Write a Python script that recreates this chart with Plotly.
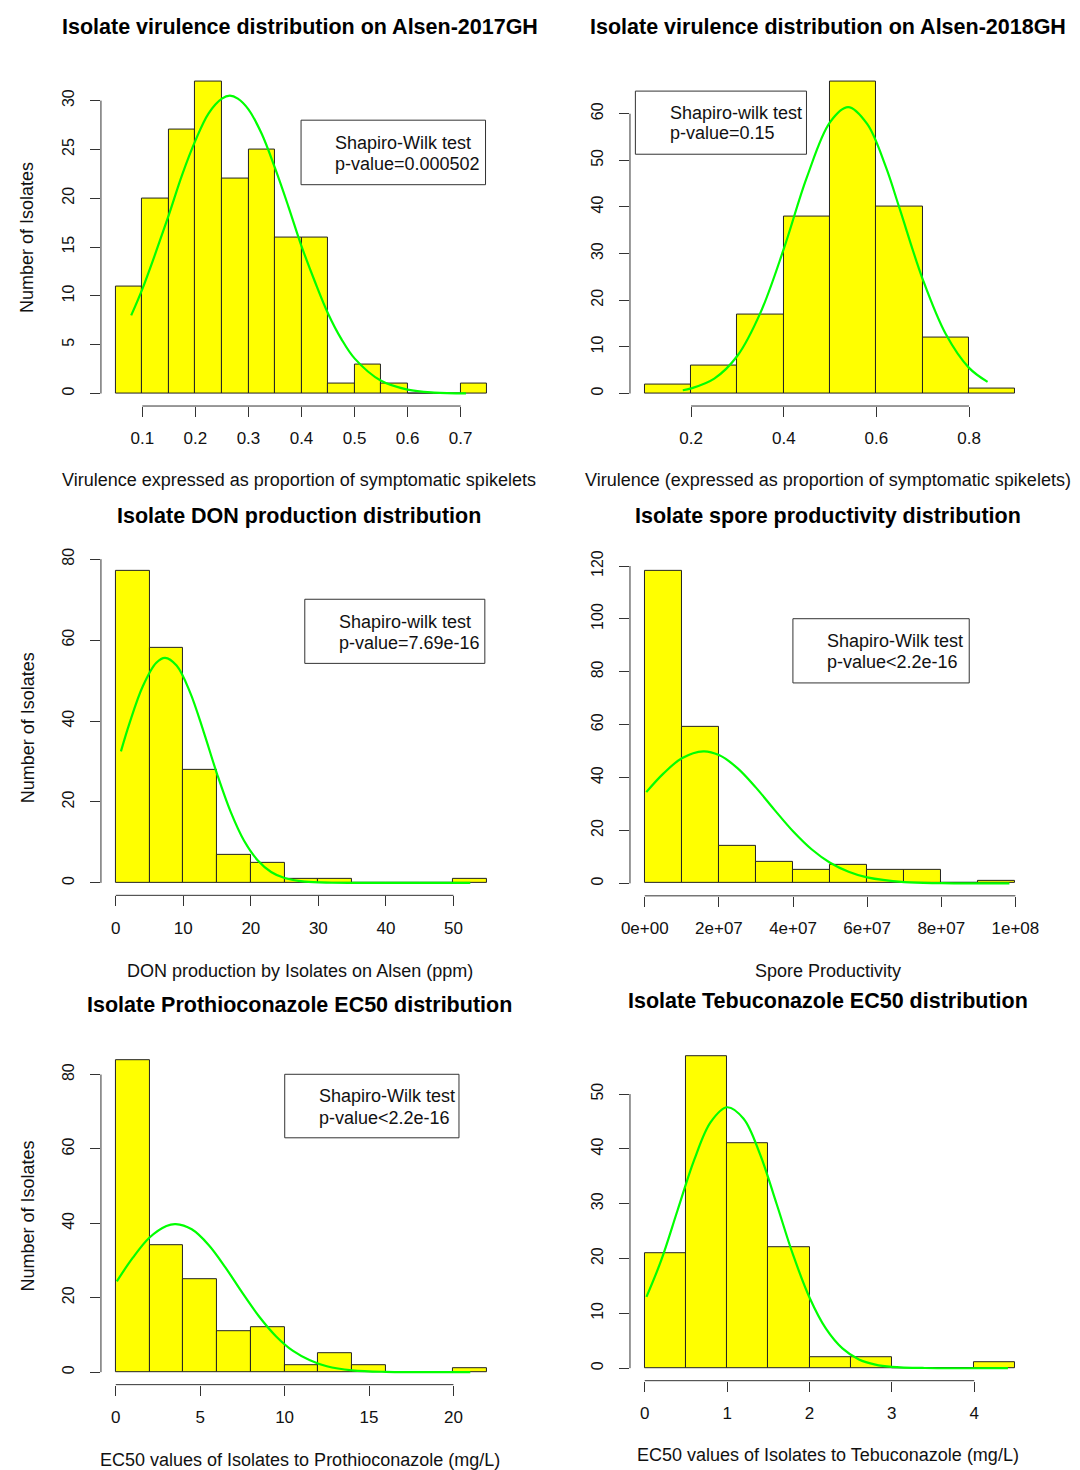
import plotly.graph_objects as go

W, H = 1080, 1470
FONT = "Liberation Sans"

# ---------------- data ----------------
p1_edges = [0.05, 0.10, 0.15, 0.20, 0.25, 0.30, 0.35, 0.40, 0.45, 0.50, 0.55, 0.60, 0.65, 0.70, 0.75]
p1_counts = [11, 20, 27, 32, 22, 25, 16, 16, 1, 3, 1, 0, 0, 1]
p1_curve_x = [0.079, 0.10, 0.125, 0.15, 0.175, 0.20, 0.225, 0.25, 0.265, 0.28, 0.30, 0.325, 0.35,
              0.375, 0.40, 0.425, 0.45, 0.475, 0.50, 0.55, 0.60, 0.65, 0.71]
p1_curve_y = [8.0, 10.7, 14.4, 18.3, 22.4, 25.9, 28.7, 30.2, 30.5, 30.2, 29.1, 26.6, 23.1,
              19.2, 15.1, 11.5, 8.2, 5.6, 3.6, 1.3, 0.4, 0.1, 0.02]
p1_xticks = [0.1, 0.2, 0.3, 0.4, 0.5, 0.6, 0.7]
p1_xlabels = ["0.1", "0.2", "0.3", "0.4", "0.5", "0.6", "0.7"]
p1_yticks = [0, 5, 10, 15, 20, 25, 30]

p2_edges = [0.1, 0.2, 0.3, 0.4, 0.5, 0.6, 0.7, 0.8, 0.9]
p2_counts = [2, 6, 17, 38, 67, 40, 12, 1]
p2_curve_x = [0.182, 0.2, 0.25, 0.30, 0.35, 0.40, 0.45, 0.50, 0.539, 0.58, 0.62, 0.65, 0.70, 0.75, 0.80, 0.84]
p2_curve_y = [0.7, 1.1, 3.2, 8.1, 17.4, 31.0, 46.4, 58.2, 61.4, 57.8, 48.7, 39.7, 24.5, 12.7, 5.5, 2.5]
p2_xticks = [0.2, 0.4, 0.6, 0.8]
p2_xlabels = ["0.2", "0.4", "0.6", "0.8"]
p2_yticks = [0, 10, 20, 30, 40, 50, 60]

p3_edges = [0, 5, 10, 15, 20, 25, 30, 35, 40, 45, 50, 55]
p3_counts = [77, 58, 28, 7, 5, 1, 1, 0, 0, 0, 1]
p3_curve_x = [0.76, 2, 4, 6, 7.3, 9, 11, 13, 15, 17, 19, 21, 23, 25, 28, 32, 40, 52.5]
p3_curve_y = [32.5, 39.3, 48.6, 54.4, 55.6, 53.7, 47.1, 37.4, 26.9, 17.6, 10.4, 5.6, 2.7, 1.2, 0.3, 0.03, 0, 0]
p3_xticks = [0, 10, 20, 30, 40, 50]
p3_xlabels = ["0", "10", "20", "30", "40", "50"]
p3_yticks = [0, 20, 40, 60, 80]

p4_edges = [0, 1e7, 2e7, 3e7, 4e7, 5e7, 6e7, 7e7, 8e7, 9e7, 1e8]
p4_counts = [118, 59, 14, 8, 5, 7, 5, 5, 0, 1]
p4_curve_x = [4e5, 5e6, 1.0e7, 1.58e7, 2.0e7, 2.5e7, 3.0e7, 3.5e7, 4.0e7, 4.5e7, 5.0e7, 5.5e7,
              6.0e7, 7.0e7, 8.0e7, 9.84e7]
p4_curve_y = [34.5, 41.5, 47.3, 49.9, 48.5, 43.6, 36.2, 27.8, 19.7, 12.9, 7.8, 4.4, 2.25, 0.47, 0.07, 0]
p4_xticks = [0, 2e7, 4e7, 6e7, 8e7, 1e8]
p4_xlabels = ["0e+00", "2e+07", "4e+07", "6e+07", "8e+07", "1e+08"]
p4_yticks = [0, 20, 40, 60, 80, 100, 120]

p5_edges = [0, 2, 4, 6, 8, 10, 12, 14, 16, 18, 20, 22]
p5_counts = [84, 34, 25, 11, 12, 2, 5, 2, 0, 0, 1]
p5_curve_x = [0.06, 1, 2, 3, 3.55, 4.5, 5.5, 6.5, 7.5, 8.5, 9.5, 10.5, 11.5, 12.5, 14, 16, 21]
p5_curve_y = [24.4, 30.7, 36.2, 39.3, 39.8, 38.4, 34.2, 28.1, 21.3, 14.9, 9.6, 5.7, 3.2, 1.6, 0.5, 0.08, 0]
p5_xticks = [0, 5, 10, 15, 20]
p5_xlabels = ["0", "5", "10", "15", "20"]
p5_yticks = [0, 20, 40, 60, 80]

p6_edges = [0, 0.5, 1.0, 1.5, 2.0, 2.5, 3.0, 3.5, 4.0, 4.5]
p6_counts = [21, 57, 41, 22, 2, 2, 0, 0, 1]
p6_curve_x = [0.02, 0.2, 0.4, 0.6, 0.8, 1.0, 1.2, 1.4, 1.6, 1.8, 2.0, 2.2, 2.4, 2.6, 2.8, 3.0, 3.4, 4.41]
p6_curve_y = [13.0, 19.7, 28.9, 38.0, 44.9, 47.6, 45.5, 39.0, 30.0, 20.7, 12.9, 7.2, 3.6, 1.6, 0.66, 0.25, 0.03, 0]
p6_xticks = [0, 1, 2, 3, 4]
p6_xlabels = ["0", "1", "2", "3", "4"]
p6_yticks = [0, 10, 20, 30, 40, 50]

titles = ["Isolate virulence distribution on Alsen-2017GH",
          "Isolate virulence distribution on Alsen-2018GH",
          "Isolate DON production distribution",
          "Isolate spore productivity distribution",
          "Isolate Prothioconazole EC50 distribution",
          "Isolate Tebuconazole EC50 distribution"]
xtitles = ["Virulence expressed as proportion of symptomatic spikelets",
           "Virulence (expressed as proportion of symptomatic spikelets)",
           "DON production by Isolates on Alsen (ppm)",
           "Spore Productivity",
           "EC50 values of Isolates to Prothioconazole (mg/L)",
           "EC50 values of Isolates to Tebuconazole (mg/L)"]
ytitle = "Number of Isolates"
box_texts = [("Shapiro-Wilk test", "p-value=0.000502"),
             ("Shapiro-wilk test", "p-value=0.15"),
             ("Shapiro-wilk test", "p-value=7.69e-16"),
             ("Shapiro-Wilk test", "p-value<2.2e-16"),
             ("Shapiro-Wilk test", "p-value<2.2e-16"),
             None]

panels = [
    (p1_edges, p1_counts, p1_curve_x, p1_curve_y, p1_xticks, p1_xlabels, p1_yticks),
    (p2_edges, p2_counts, p2_curve_x, p2_curve_y, p2_xticks, p2_xlabels, p2_yticks),
    (p3_edges, p3_counts, p3_curve_x, p3_curve_y, p3_xticks, p3_xlabels, p3_yticks),
    (p4_edges, p4_counts, p4_curve_x, p4_curve_y, p4_xticks, p4_xlabels, p4_yticks),
    (p5_edges, p5_counts, p5_curve_x, p5_curve_y, p5_xticks, p5_xlabels, p5_yticks),
    (p6_edges, p6_counts, p6_curve_x, p6_curve_y, p6_xticks, p6_xlabels, p6_yticks),
]

# ---------------- layout geometry (pixels) ----------------
# plot regions: (left, right, top, bottom)
regions = [(93.5, 501.4, 58, 398), (631.5, 1038.5, 58, 398),
           (93.5, 501.4, 552, 891), (631.5, 1038.5, 552, 891.5),
           (93.5, 501.4, 1044, 1384), (631.5, 1038.5, 1040, 1380)]
title_pos = [(296, 16), (833, 16), (295, 509), (833, 509), (295.5, 1001), (833, 997)]
xtitle_pos = [(295, 473), (833, 473), (296, 967), (833, 967), (295.5, 1460), (833, 1455)]
ytitle_pos = [(19, 228), None, (19, 722), None, (19, 1214), None]
# legend boxes: (x0, x1, y0, y1, text_left, line1_y, line2_y)
boxes = [(297, 484.6, 110, 175, 329.5, 133, 154),
         (637, 811, 80.7, 144.3, 669.8, 102.7, 123.3),
         (300.8, 483.9, 592.7, 657.3, 333.3, 616, 636.7),
         (797.2, 976.5, 612.3, 677, 830, 635, 656),
         (280.4, 457.6, 1071.3, 1135.3, 313.3, 1093.3, 1115),
         None]


def px(x):
    return x / W


def py(y):
    return 1 - y / H


AX = "#333333"
fig = go.Figure()
shapes = []
annotations = []
layout = {}

for i, (edges, counts, cx, cy, xt, xl, yt) in enumerate(panels):
    n = i + 1
    xa = "x" if n == 1 else f"x{n}"
    ya = "y" if n == 1 else f"y{n}"
    centers = [(edges[k] + edges[k + 1]) / 2 for k in range(len(counts))]
    widths = [edges[k + 1] - edges[k] for k in range(len(counts))]
    fig.add_trace(go.Bar(x=centers, y=counts, width=widths, xaxis=xa, yaxis=ya,
                         marker=dict(color="#FFFF00", line=dict(color="#222222", width=1)),
                         hoverinfo="skip"))
    fig.add_trace(go.Scatter(x=cx, y=cy, mode="lines", line_shape="spline", xaxis=xa, yaxis=ya,
                             line=dict(color="#00FF00", width=2.2), hoverinfo="skip"))

    # R-style ranges: 4% extension of data limits
    x0, x1 = edges[0], edges[-1]
    dx = (x1 - x0) * 0.04
    ymax = max(counts)
    dy = ymax * 0.04
    L, R, T, B = regions[i]
    layout[f"xaxis{'' if n == 1 else n}"] = dict(
        domain=[px(L), px(R)], range=[x0 - dx, x1 + dx], anchor=ya,
        tickvals=xt, ticktext=xl, ticks="outside", ticklen=10, tickwidth=1, tickcolor=AX,
        showline=False, showgrid=False, zeroline=False, ticklabelstandoff=7,
        tickfont=dict(family=FONT, size=17, color="#111111"))
    layout[f"yaxis{'' if n == 1 else n}"] = dict(
        domain=[py(B), py(T)], range=[-dy, ymax + dy], anchor=xa,
        tickvals=yt, ticktext=[str(v) for v in yt], ticks="outside", ticklen=10, tickwidth=1,
        tickcolor=AX, tickangle=-90, showline=False, showgrid=False, zeroline=False,
        ticklabelstandoff=10, tickfont=dict(family=FONT, size=16, color="#111111"))

    # detached R-style axis lines spanning the tick range
    shapes.append(dict(type="line", xref=xa, yref=f"{ya} domain", x0=xt[0], x1=xt[-1], y0=0, y1=0,
                       line=dict(color=AX, width=1)))
    shapes.append(dict(type="line", xref=f"{xa} domain", yref=ya, x0=0, x1=0, y0=yt[0], y1=yt[-1],
                       line=dict(color=AX, width=1)))

    tx, ty = title_pos[i]
    annotations.append(dict(text=f"<b>{titles[i]}</b>", x=px(tx), y=py(ty), xref="paper", yref="paper",
                            xanchor="center", yanchor="middle", showarrow=False,
                            font=dict(family=FONT, size=21.5, color="#000000")))
    ax_, ay_ = xtitle_pos[i]
    annotations.append(dict(text=xtitles[i], x=px(ax_), y=py(ay_), xref="paper", yref="paper",
                            xanchor="center", yanchor="middle", showarrow=False,
                            font=dict(family=FONT, size=18, color="#111111")))
    if ytitle_pos[i]:
        yx, yy = ytitle_pos[i]
        annotations.append(dict(text=ytitle, x=px(yx), y=py(yy), xref="paper", yref="paper",
                                xanchor="center", yanchor="middle", showarrow=False, textangle=-90,
                                font=dict(family=FONT, size=18, color="#111111")))
    if boxes[i]:
        bx0, bx1, by0, by1, tl, l1, l2 = boxes[i]
        shapes.append(dict(type="rect", xref="paper", yref="paper", x0=px(bx0), x1=px(bx1),
                           y0=py(by1), y1=py(by0), line=dict(color=AX, width=1), fillcolor="rgba(0,0,0,0)"))
        for txt, ly in zip(box_texts[i], (l1, l2)):
            annotations.append(dict(text=txt, x=px(tl), y=py(ly), xref="paper", yref="paper",
                                    xanchor="left", yanchor="middle", showarrow=False,
                                    font=dict(family=FONT, size=18, color="#111111")))

fig.update_layout(width=W, height=H, margin=dict(l=0, r=0, t=0, b=0),
                  paper_bgcolor="white", plot_bgcolor="white", showlegend=False,
                  bargap=0, barmode="overlay", hovermode=False,
                  shapes=shapes, annotations=annotations, **layout)

fig.write_html("out.html")
